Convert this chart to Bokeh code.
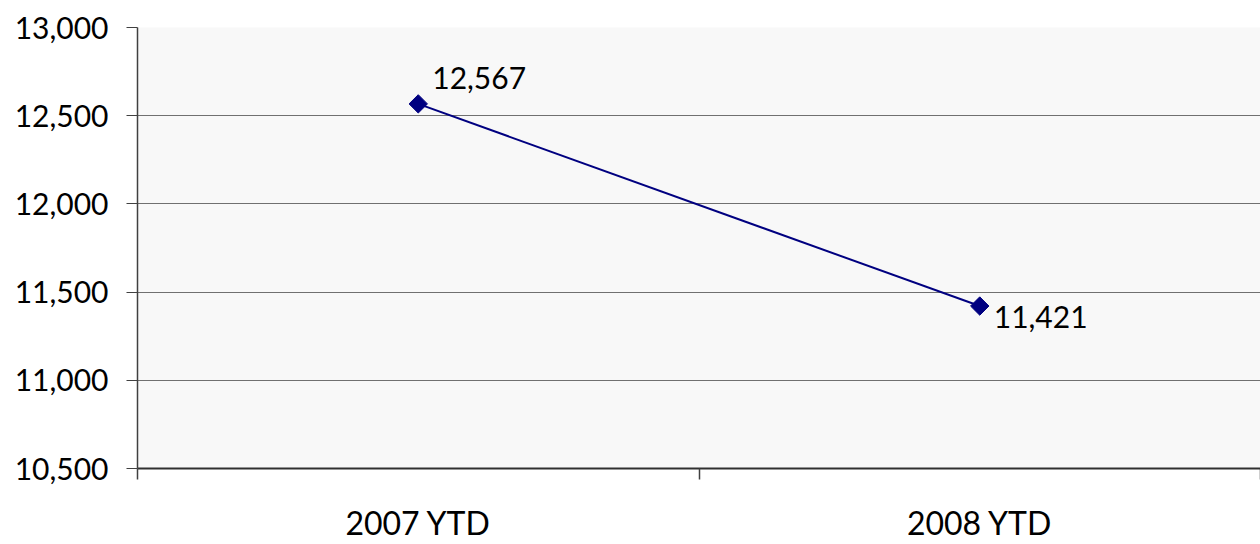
from bokeh.plotting import figure
from bokeh.models import FixedTicker, NumeralTickFormatter, Range1d
from bokeh.core.properties import value
from bokeh.embed import file_html
from bokeh.resources import INLINE
import math

categories = ["2007 YTD", "2008 YTD"]
values = [12567, 11421]
y_ticks = [10500, 11000, 11500, 12000, 12500, 13000]

FONT = "Lato"
FS = "30px"
FS_X = "32px"

xs = [i + 0.5 for i in range(len(categories))]

p = figure(width=1260, height=544, output_backend="svg", toolbar_location=None,
           x_range=Range1d(0, len(categories)), y_range=Range1d(y_ticks[0], y_ticks[-1]),
           min_border_left=137, min_border_top=27, min_border_bottom=76, min_border_right=0)
p.background_fill_color = "#f8f8f8"
p.border_fill_color = "white"
p.outline_line_color = None

# y axis
p.yaxis.ticker = FixedTicker(ticks=y_ticks)
p.yaxis.formatter = NumeralTickFormatter(format="0,0")
p.yaxis.major_tick_out = 11
p.yaxis.major_tick_in = 0
p.yaxis.minor_tick_line_color = None
p.yaxis.major_label_standoff = 18
p.yaxis.major_label_text_font = FONT
p.yaxis.major_label_text_font_size = FS
p.yaxis.major_label_text_color = "black"
p.yaxis.axis_line_color = "#404040"
p.yaxis.axis_line_width = 1.5
p.yaxis.major_tick_line_color = "#404040"

# x axis
p.xaxis.ticker = FixedTicker(ticks=xs, minor_ticks=list(range(len(categories) + 1)))
p.xaxis.major_label_overrides = {x: c for x, c in zip(xs, categories)}
p.xaxis.major_tick_out = 0
p.xaxis.major_tick_in = 0
p.xaxis.major_tick_line_color = None
p.xaxis.minor_tick_out = 11
p.xaxis.minor_tick_in = 0
p.xaxis.minor_tick_line_color = "#404040"
p.xaxis.minor_tick_line_width = 1.5
p.xaxis.major_label_standoff = 23
p.xaxis.major_label_text_font = FONT
p.xaxis.major_label_text_font_size = FS_X
p.xaxis.major_label_text_color = "black"
p.xaxis.axis_line_color = "#303030"
p.xaxis.axis_line_width = 2

p.xgrid.grid_line_color = None
p.ygrid.grid_line_color = "#707070"
p.ygrid.grid_line_width = 1

p.line(xs, values, line_color="#000080", line_width=2)
p.scatter(xs, values, marker="square", size=13, angle=math.pi / 4,
          fill_color="#000080", line_color="#000080")

# data labels
for x, v, i in zip(xs, values, range(len(values))):
    yoff = -26 if i == 0 else 11
    p.text([x], [v], text=[f"{v:,}"], x_offset=14, y_offset=yoff,
           text_baseline="alphabetic", text_align="left",
           text_font=value(FONT), text_font_size=FS, text_color="black")

open("out.html", "w").write(file_html(p, INLINE))
